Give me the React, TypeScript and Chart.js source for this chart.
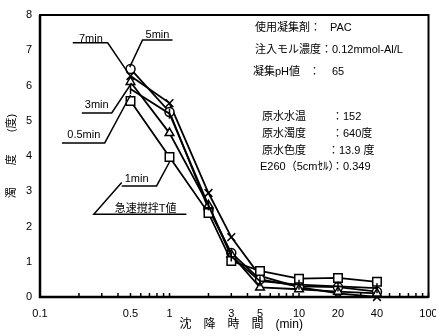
import React, { useEffect, useRef } from "react";
import { Chart, registerables } from "chart.js";

Chart.register(...registerables);

// ---- data ----
const settlingTimes = [0.5, 1, 2, 3, 5, 10, 20, 40];
const seriesLabels = ["0.5min", "1min", "3min", "5min", "7min"];
const turb05min = [5.9, 5.2, 2.6, 1.15, 0.45, 0.35, 0.3, 0.25];
const turb1min = [5.56, 3.97, 2.38, 1.02, 0.74, 0.52, 0.54, 0.43];
const turb3min = [6.1, 4.65, 2.6, 1.2, 0.27, 0.22, 0.15, 0.1];
const turb5min = [6.47, 5.25, 2.5, 1.25, 0.5, 0.3, 0.28, 0.15];
const turb7min = [6.27, 5.5, 2.95, 1.7, 0.6, 0.28, 0.1, 0.0];
const seriesValues = [turb05min, turb1min, turb3min, turb5min, turb7min];
const markerStyles = ["line", "rect", "triangle", "circle", "crossRot"];
const markerRadius = [5, 6, 5, 4.5, 5.5];
const xTickValues = [0.1, 0.5, 1, 3, 5, 10, 20, 40, 100];
const xMinorTicks: number[] = [];
[0.1, 1, 10].forEach((d) => {
  for (let k = 1; k <= 9; k++) xMinorTicks.push(+(d * k).toFixed(3));
});
xMinorTicks.push(100);

// leader-line labels, in data coordinates [time, turbidity]
const leaderLabels = [
  { text: "7min", at: [0.247, 7.32], path: [[0.179, 7.21], [0.333, 7.21], [0.475, 6.38]] },
  { text: "5min", at: [0.808, 7.43], path: [[1.055, 7.29], [0.619, 7.29], [0.493, 6.52]] },
  { text: "3min", at: [0.274, 5.45], path: [[0.2104, 5.22], [0.358, 5.22], [0.51, 6.07]] },
  { text: "0.5min", at: [0.218, 4.6], path: [[0.1477, 4.37], [0.316, 4.37], [0.5, 5.73]] },
  { text: "1min", at: [0.557, 3.35], path: [[0.4275, 3.15], [0.795, 3.15], [1.0, 3.83]] },
  { text: "急速撹拌T値", at: [0.653, 2.5], path: [[1.35, 2.35], [0.2604, 2.35], [0.4275, 3.25]] },
];

// info block text (x, y in canvas px)
const infoTexts: [string, number, number][] = [
  ["使用凝集剤：", 255, 28],
  ["PAC", 330, 28],
  ["注入モル濃度：0.12mmol-Al/L", 255, 50],
  ["凝集pH値", 253, 72],
  ["：", 309, 72],
  ["65", 332, 72],
  ["原水水温", 262, 117],
  ["：152", 332, 117],
  ["原水濁度", 262, 134],
  ["：640度", 332, 134],
  ["原水色度", 262, 151],
  ["：13.9 度", 328, 151],
  ["E260（5cmｾﾙ）", 260, 167],
  ["：0.349", 332, 167],
];

const FONT = '"Liberation Sans", Arial, "Noto Sans CJK JP", sans-serif';

const customPlugin = {
  id: "customDraw",
  beforeDatasetsDraw(chart: any) {
    const { ctx, chartArea: a, scales } = chart;
    ctx.save();
    ctx.strokeStyle = "#000";
    ctx.lineWidth = 2;
    ctx.strokeRect(a.left, a.top, a.right - a.left, a.bottom - a.top);
    ctx.lineWidth = 2.5;
    ctx.beginPath();
    ctx.moveTo(a.left, a.top);
    ctx.lineTo(a.left, a.bottom);
    ctx.lineTo(a.right, a.bottom);
    ctx.stroke();
    ctx.lineWidth = 1.5;
    xMinorTicks.forEach((v) => {
      const px = scales.x.getPixelForValue(v);
      ctx.beginPath();
      ctx.moveTo(px, a.bottom);
      ctx.lineTo(px, a.bottom - 4);
      ctx.stroke();
    });
    ctx.restore();
  },
  afterDatasetsDraw(chart: any) {
    const { ctx, chartArea: a, scales } = chart;
    const X = (v: number) => scales.x.getPixelForValue(v);
    const Y = (v: number) => scales.y.getPixelForValue(v);
    ctx.save();
    ctx.fillStyle = "#000";
    ctx.strokeStyle = "#000";
    ctx.lineWidth = 1.5;
    ctx.font = `11px ${FONT}`;
    ctx.textAlign = "center";
    ctx.textBaseline = "middle";
    leaderLabels.forEach((l) => {
      ctx.fillText(l.text, X(l.at[0]), Y(l.at[1]));
      ctx.beginPath();
      l.path.forEach((p, i) => {
        if (i === 0) ctx.moveTo(X(p[0]), Y(p[1]));
        else ctx.lineTo(X(p[0]), Y(p[1]));
      });
      ctx.stroke();
    });
    // info block
    ctx.textAlign = "left";
    infoTexts.forEach(([t, x, y]) => ctx.fillText(t, x, y));
    // axis titles
    ctx.font = `12px ${FONT}`;
    ctx.textAlign = "center";
    ctx.fillText("沈　降　時　間　(min)", (a.left + a.right) / 2 + 7, a.bottom + 28);
    ctx.font = `11px ${FONT}`;
    ctx.translate(12, (a.top + a.bottom) / 2);
    ctx.rotate(-Math.PI / 2);
    ctx.fillText("濁　　度　　(度)", 0, 0);
    ctx.restore();
  },
};

export default function App() {
  const ref = useRef<HTMLCanvasElement>(null);
  useEffect(() => {
    document.body.style.margin = "0";
    if (!ref.current) return;
    const datasets = seriesLabels.map((name, i) => ({
      label: name,
      data: settlingTimes.map((t, j) => ({ x: t, y: seriesValues[i][j] })),
      borderColor: "#000",
      borderWidth: 1.8,
      pointStyle: markerStyles[i] as any,
      pointRadius: markerRadius[i],
      pointRotation: markerStyles[i] === "line" ? 90 : 0,
      pointBackgroundColor: "#fff",
      pointBorderColor: "#000",
      pointBorderWidth: 1.5,
      tension: 0,
      clip: false as any,
    }));
    const chart = new Chart(ref.current, {
      type: "line",
      data: { datasets },
      options: {
        animation: false,
        responsive: false,
        maintainAspectRatio: false,
        layout: { padding: { top: 15, right: 5, left: 0, bottom: 0 } },
        plugins: {
          legend: { display: false },
          tooltip: { enabled: false },
          title: { display: false },
        },
        scales: {
          x: {
            type: "logarithmic",
            min: 0.1,
            max: 100,
            grid: { display: false, drawTicks: false },
            border: { display: false },
            afterBuildTicks: (s: any) => {
              s.ticks = xTickValues.map((v) => ({ value: v }));
            },
            afterFit: (s: any) => {
              s.height = 39;
              s.paddingLeft = 0;
              s.paddingRight = 0;
            },
            ticks: {
              autoSkip: false,
              maxRotation: 0,
              padding: 10,
              color: "#000",
              font: { family: FONT, size: 11 },
              callback: (v: any) => String(v),
            },
          },
          y: {
            min: 0,
            max: 8,
            grid: { display: false, drawTicks: false },
            border: { display: false },
            afterFit: (s: any) => {
              s.width = 40;
              s.paddingTop = 0;
              s.paddingBottom = 0;
            },
            ticks: {
              stepSize: 1,
              padding: 8,
              color: "#000",
              font: { family: FONT, size: 11 },
            },
          },
        },
      },
      plugins: [customPlugin],
    });
    return () => chart.destroy();
  }, []);
  return (
    <div style={{ width: 436, height: 336 }}>
      <canvas ref={ref} width={436} height={336} style={{ display: "block" }} />
    </div>
  );
}
